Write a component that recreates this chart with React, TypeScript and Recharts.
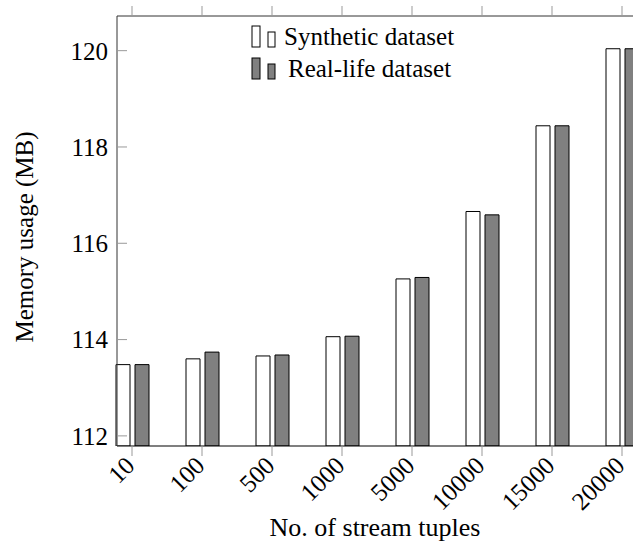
import React from 'react'
import { BarChart, Bar, XAxis, YAxis, Legend, Label } from 'recharts'

// number of stream tuples on the x axis
const categories = ['10', '100', '500', '1000', '5000', '10000', '15000', '20000']
// memory usage in MB
const synthetic = [113.48, 113.6, 113.66, 114.06, 115.26, 116.66, 118.44, 120.04]
const realLife = [113.48, 113.74, 113.68, 114.07, 115.29, 116.59, 118.44, 120.04]
const yTicks = [112, 114, 116, 118, 120]
const seriesNames = ['Synthetic dataset', 'Real-life dataset']

const data = categories.map((c, i) => ({
  tuples: c,
  synthetic: synthetic[i],
  realLife: realLife[i]
}))

const FONT = 'Liberation Serif, Times New Roman, serif'
const textStyle = { fontFamily: FONT }

const XTick = ({ x, y, payload }: any) => (
  <text
    x={x - 2}
    y={y + 3}
    transform={`rotate(-45 ${x - 2} ${y + 3})`}
    textAnchor="end"
    dy="0.35em"
    fontSize={25}
    style={textStyle}
    fill="#000"
  >
    {payload.value}
  </text>
)

const LegendBox = ({ payload }: any) => {
  const items = seriesNames
    .map((n) => (payload || []).find((p: any) => p.value === n))
    .filter(Boolean)
  return (
    <svg width={240} height={72}>
      {items.map((p: any, i: number) => {
        const base = 31 + i * 32
        return (
          <g key={p.value}>
            <rect x={8} y={base - 21} width={8} height={21} fill={p.color} stroke="#000" strokeWidth={1} />
            <rect x={24} y={base - 15} width={7} height={15} fill={p.color} stroke="#000" strokeWidth={1} />
            <text x={i === 0 ? 40 : 44} y={base - 2} fontSize={25} style={textStyle} fill="#000">
              {p.value}
            </text>
          </g>
        )
      })}
    </svg>
  )
}

export default function App() {
  return (
    <div style={{ position: 'absolute', left: 0, top: 0, width: 633, height: 544, overflow: 'hidden', background: '#fff' }}>
      <BarChart
        width={660}
        height={544}
        data={data}
        margin={{ top: 15, right: 23, bottom: 0, left: 0 }}
        barSize={14}
        barGap={5}
      >
        <XAxis
          dataKey="tuples"
          height={98}
          padding={{ left: -20, right: -20 }}
          tick={<XTick />}
          tickSize={10}
          tickMargin={2}
          tickLine={{ stroke: '#999' }}
          axisLine={{ stroke: '#000', strokeWidth: 1.2 }}
          interval={0}
        >
          <Label
            content={({ viewBox }: any) => (
              <text
                x={viewBox.x + viewBox.width / 2 - 2}
                y={536}
                textAnchor="middle"
                fontSize={26}
                style={textStyle}
                fill="#000"
              >
                No. of stream tuples
              </text>
            )}
          />
        </XAxis>
        <XAxis
          xAxisId="top"
          dataKey="tuples"
          orientation="top"
          height={1}
          padding={{ left: -20, right: -20 }}
          tick={() => <g />}
          tickSize={10}
          tickLine={{ stroke: '#999' }}
          axisLine={{ stroke: '#333' }}
          interval={0}
        />
        <YAxis
          width={117}
          domain={[111.79, 120.72]}
          allowDataOverflow
          ticks={yTicks}
          tickSize={-10}
          tickMargin={19}
          tickLine={{ stroke: '#999' }}
          axisLine={{ stroke: '#333' }}
          tick={{ fontSize: 25, fill: '#000', style: textStyle }}
        >
          <Label
            content={() => (
              <text
                x={24}
                y={237}
                transform="rotate(-90 24 237)"
                textAnchor="middle"
                dominantBaseline="central"
                fontSize={25}
                style={textStyle}
                fill="#000"
              >
                Memory usage (MB)
              </text>
            )}
          />
        </YAxis>
        <Legend
          layout="vertical"
          align="center"
          verticalAlign="middle"
          content={<LegendBox />}
          wrapperStyle={{ position: 'absolute', left: 244, top: 16, width: 240, height: 72 }}
        />
        <Bar
          dataKey="synthetic"
          name={seriesNames[0]}
          fill="#ffffff"
          stroke="#000"
          strokeWidth={1}
          isAnimationActive={false}
        />
        <Bar
          dataKey="realLife"
          name={seriesNames[1]}
          fill="#808080"
          stroke="#000"
          strokeWidth={1}
          isAnimationActive={false}
        />
      </BarChart>
    </div>
  )
}
